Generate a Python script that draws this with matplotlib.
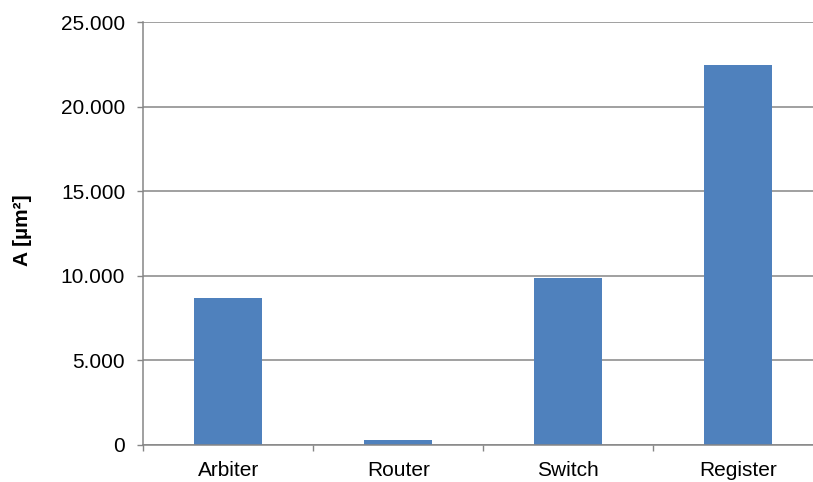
import matplotlib
matplotlib.use("Agg")
import matplotlib.pyplot as plt
from matplotlib.ticker import FuncFormatter, FixedLocator

plt.rcParams['font.family'] = ['Liberation Sans', 'DejaVu Sans']

# Area per component
categories = ["Arbiter", "Router", "Switch", "Register"]
area_um2 = [8700, 300, 9860, 22430]
y_ticks = [0, 5000, 10000, 15000, 20000, 25000]

bar_color = "#4F81BD"
axis_gray = "#868686"

fig = plt.figure(figsize=(8.13, 4.82), dpi=100)
ax = fig.add_axes([143.3 / 813, 37 / 482, 680 / 813, 423 / 482])

x = list(range(len(categories)))
ax.bar(x, area_um2, width=0.4, color=bar_color, zorder=3)

ax.set_xlim(-0.5, len(categories) - 0.5)
ax.set_ylim(0, 25000)
ax.set_yticks(y_ticks)
ax.yaxis.set_major_formatter(
    FuncFormatter(lambda v, _: f"{int(v):,}".replace(",", "."))
)

# category labels centred, tick marks on category boundaries
ax.set_xticks(x)
ax.set_xticklabels(categories)
ax.xaxis.set_minor_locator(FixedLocator([i - 0.5 for i in range(len(categories) + 1)]))
ax.tick_params(axis="x", which="major", length=0, pad=11.5, labelsize=15)
ax.tick_params(axis="x", which="minor", length=4.5, width=1, color=axis_gray)
ax.tick_params(axis="y", length=4.5, width=1, color=axis_gray, pad=8.5, labelsize=15)

ax.grid(axis="y", color=axis_gray, linewidth=1.1, zorder=0)
for side in ("top", "right"):
    ax.spines[side].set_visible(False)
for side in ("left", "bottom"):
    ax.spines[side].set_color(axis_gray)
    ax.spines[side].set_linewidth(1.1)
    ax.spines[side].set_zorder(4)

fig.text(22 / 813, (482 - 230) / 482, "A [µm²]", rotation=90, ha="center",
         va="center", fontsize=15, fontweight="bold")

fig.savefig("out.png", dpi=100)
